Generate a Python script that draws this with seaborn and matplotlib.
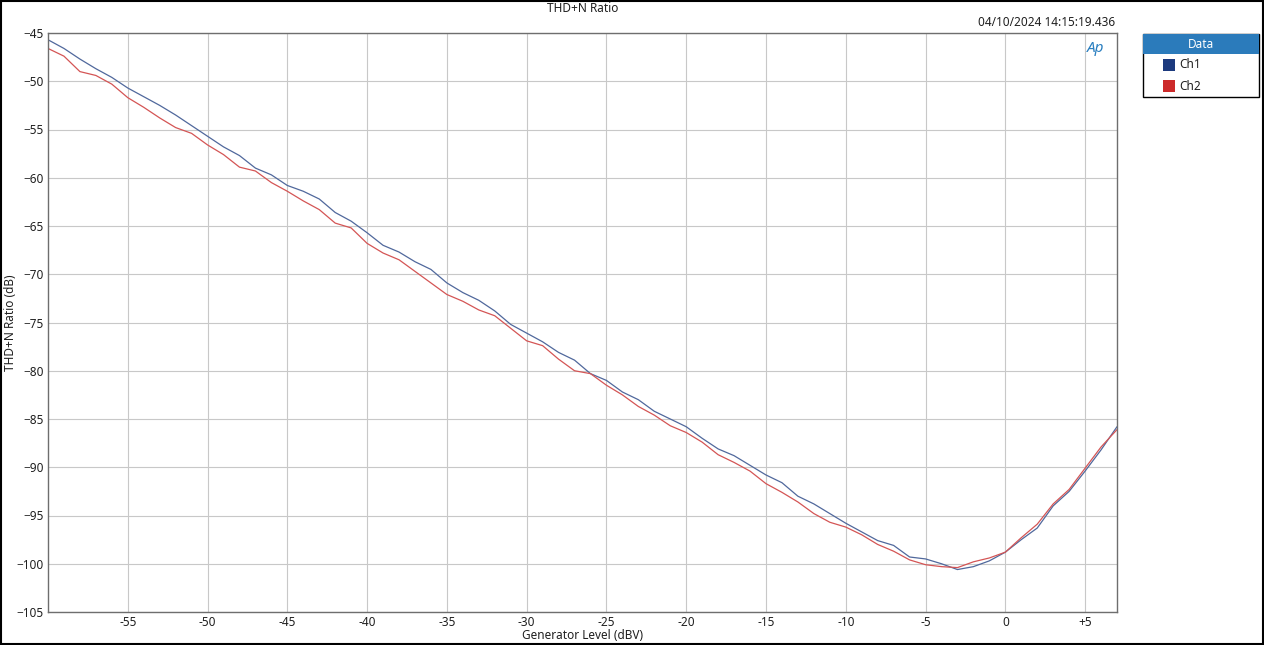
import pandas as pd
import matplotlib
matplotlib.use('Agg')
import matplotlib.pyplot as plt
import matplotlib.patches as mpatches
import seaborn as sns

# 发生器电平 (dBV)
level = list(range(-60, 8))

# Ch1 THD+N (dB)
ch1 = [-45.7, -46.6, -47.7, -48.7, -49.6, -50.7, -51.6, -52.5, -53.5, -54.6,
       -55.7, -56.8, -57.7, -59.0, -59.7, -60.8, -61.4, -62.2, -63.6, -64.5,
       -65.7, -67.0, -67.7, -68.7, -69.5, -70.9, -71.9, -72.7, -73.8, -75.2,
       -76.1, -77.0, -78.1, -78.9, -80.3, -81.0, -82.2, -83.0, -84.2, -85.0,
       -85.8, -87.0, -88.1, -88.8, -89.8, -90.8, -91.6, -93.0, -93.8, -94.8,
       -95.8, -96.7, -97.6, -98.1, -99.3, -99.5, -100.0, -100.6, -100.3, -99.7,
       -98.8, -97.5, -96.3, -94.0, -92.5, -90.4, -88.2, -85.8]

# Ch2 THD+N (dB)
ch2 = [-46.6, -47.4, -49.0, -49.4, -50.3, -51.7, -52.7, -53.8, -54.8, -55.4,
       -56.6, -57.6, -58.9, -59.3, -60.5, -61.4, -62.4, -63.3, -64.7, -65.2,
       -66.8, -67.8, -68.5, -69.7, -70.9, -72.1, -72.8, -73.7, -74.3, -75.6,
       -76.9, -77.4, -78.8, -80.0, -80.3, -81.5, -82.5, -83.7, -84.6, -85.7,
       -86.4, -87.4, -88.7, -89.5, -90.4, -91.7, -92.6, -93.6, -94.8, -95.7,
       -96.2, -97.0, -98.0, -98.7, -99.6, -100.1, -100.3, -100.4, -99.8, -99.4,
       -98.8, -97.3, -95.9, -93.8, -92.3, -90.1, -87.9, -86.1]

y_ticks = list(range(-105, -44, 5))
x_ticks = [-55, -50, -45, -40, -35, -30, -25, -20, -15, -10, -5, 0, 5]
x_tick_labels = ['-55', '-50', '-45', '-40', '-35', '-30', '-25', '-20', '-15', '-10', '-5', '0', '+5']

df = pd.DataFrame({'level': level * 2,
                   'ratio': ch1 + ch2,
                   'ch': ['Ch1'] * len(level) + ['Ch2'] * len(level)})

sns.set_style('white')
plt.rcParams['font.family'] = ['Noto Sans', 'DejaVu Sans']

W, H = 1264, 645
fig = plt.figure(figsize=(W / 100, H / 100), dpi=100)
ax = fig.add_axes([48 / W, 1 - 612 / H, (1117 - 48) / W, (612 - 33) / H])

sns.lineplot(data=df, x='level', y='ratio', hue='ch',
             palette={'Ch1': '#50689c', 'Ch2': '#d45555'},
             linewidth=0.9, legend=False, ax=ax)

ax.set_xlim(-60, 7)
ax.set_ylim(-105, -45)
ax.set_xticks(x_ticks)
ax.set_xticklabels(x_tick_labels)
ax.set_yticks(y_ticks)
ax.grid(True, color='#c8c8c8', linewidth=0.8)
ax.tick_params(axis='both', length=0, labelsize=8.5, colors='#202020', pad=3)
for s in ax.spines.values():
    s.set_color('#6e6e6e')
    s.set_linewidth(1.0)
ax.set_xlabel('Generator Level (dBV)', fontsize=8.5, labelpad=0, color='#202020')
ax.set_ylabel('THD+N Ratio (dB)', fontsize=8.5, color='#202020')
ax.yaxis.set_label_coords((17 - 48) / (1117 - 48), 0.5)

fig.text(583 / W, 1 - 8 / H, 'THD+N Ratio', ha='center', va='center', fontsize=8.5, color='#202020')
fig.text(1115 / W, 1 - 22 / H, '04/10/2024 14:15:19.436', ha='right', va='center',
         fontsize=8.5, color='#202020')
fig.text(1096 / W, 1 - 49 / H, 'Ap', ha='center', va='center',
         fontsize=11, fontweight='bold', fontstyle='italic', color='#2a7fc0')

# 图例框
lx0, lx1, ly0, ly1 = 1143, 1259, 34, 97
fig.patches.append(mpatches.Rectangle((lx0 / W, 1 - ly1 / H), (lx1 - lx0) / W, (ly1 - ly0) / H,
                                      transform=fig.transFigure, facecolor='white',
                                      edgecolor='black', linewidth=1.0))
fig.patches.append(mpatches.Rectangle((lx0 / W, 1 - 54 / H), (lx1 - lx0) / W, 20 / H,
                                      transform=fig.transFigure, facecolor='#2b7bbb',
                                      edgecolor='none'))
fig.text((lx0 + lx1) / 2 / W, 1 - 44 / H, 'Data', ha='center', va='center',
         fontsize=8.5, fontweight='bold', color='white')
for name, col, yy in [('Ch1', '#1c3a7e', 65), ('Ch2', '#cc2a2a', 86)]:
    fig.patches.append(mpatches.Rectangle((1163 / W, 1 - (yy + 6) / H), 12 / W, 12 / H,
                                          transform=fig.transFigure, facecolor=col,
                                          edgecolor='none'))
    fig.text(1179 / W, 1 - yy / H, name, ha='left', va='center', fontsize=8.5, color='#202020')

# 外框
fig.patches.append(mpatches.Rectangle((0.0005, 0.001), 0.999, 0.998, transform=fig.transFigure,
                                      facecolor='none', edgecolor='black', linewidth=1.5))

plt.savefig('out.png', dpi=100)
